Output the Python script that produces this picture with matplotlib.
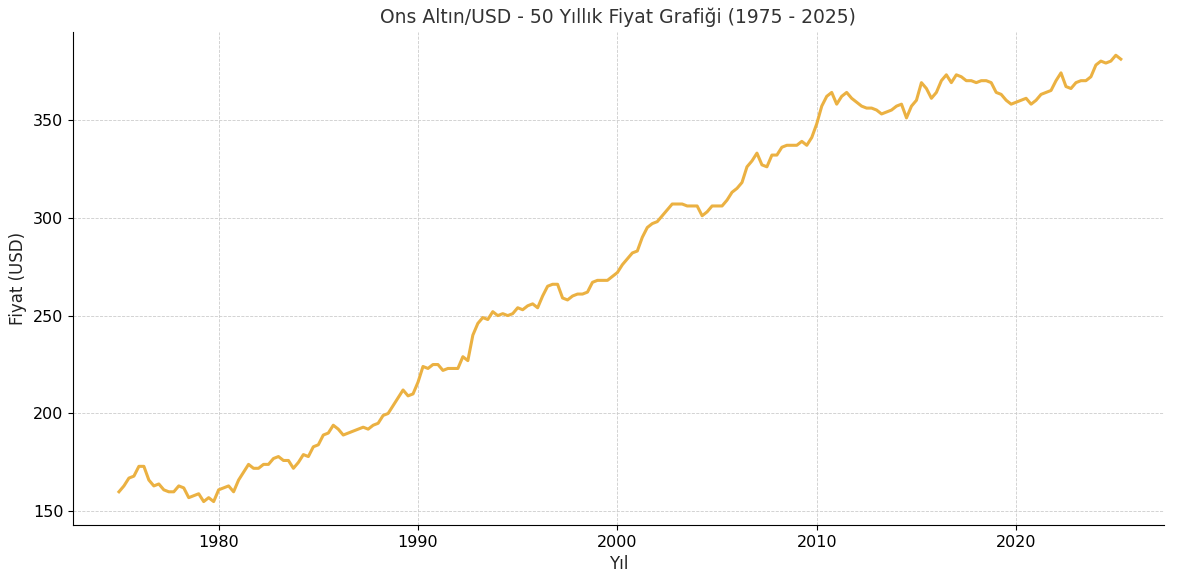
import numpy as np
import matplotlib.pyplot as plt

# quarterly readings, 1975 Q1 .. 2025 Q2
start_year = 1975
prices = [
    160, 163, 167, 168,  173, 173, 166, 163,  164, 161, 160, 160,
    163, 162, 157, 158,  159, 155, 157, 155,  161, 162, 163, 160,
    166, 170, 174, 172,  172, 174, 174, 177,  178, 176, 176, 172,
    175, 179, 178, 183,  184, 189, 190, 194,  192, 189, 190, 191,
    192, 193, 192, 194,  195, 199, 200, 204,  208, 212, 209, 210,
    216, 224, 223, 225,  225, 222, 223, 223,  223, 229, 227, 240,
    246, 249, 248, 252,  250, 251, 250, 251,  254, 253, 255, 256,
    254, 260, 265, 266,  266, 259, 258, 260,  261, 261, 262, 267,
    268, 268, 268, 270,  272, 276, 279, 282,  283, 290, 295, 297,
    298, 301, 304, 307,  307, 307, 306, 306,  306, 301, 303, 306,
    306, 306, 309, 313,  315, 318, 326, 329,  333, 327, 326, 332,
    332, 336, 337, 337,  337, 339, 337, 341,  348, 357, 362, 364,
    358, 362, 364, 361,  359, 357, 356, 356,  355, 353, 354, 355,
    357, 358, 351, 357,  360, 369, 366, 361,  364, 370, 373, 369,
    373, 372, 370, 370,  369, 370, 370, 369,  364, 363, 360, 358,
    359, 360, 361, 358,  360, 363, 364, 365,  370, 374, 367, 366,
    369, 370, 370, 372,  378, 380, 379, 380,  383, 381,
]
years = start_year + np.arange(len(prices)) / 4

fig, ax = plt.subplots(figsize=(11.79, 5.77), dpi=100)
ax.plot(years, prices, color='#EBB142', linewidth=2.2)
ax.set_title('Ons Altın/USD - 50 Yıllık Fiyat Grafiği (1975 - 2025)', fontsize=13.5, color='#333333')
ax.set_xlabel('Yıl', fontsize=12, color='#222222')
ax.set_ylabel('Fiyat (USD)', fontsize=12, color='#222222')
ax.set_xlim(1972.7, 2027.4)
ax.set_ylim(143, 395)
ax.set_xticks([1980, 1990, 2000, 2010, 2020])
ax.set_yticks([150, 200, 250, 300, 350])
ax.tick_params(labelsize=11.5)
ax.grid(True, linestyle='--', linewidth=0.6, color='#cccccc')
ax.spines['top'].set_visible(False)
ax.spines['right'].set_visible(False)
fig.subplots_adjust(left=0.062, right=0.987, top=0.945, bottom=0.09)
plt.savefig('out.png')
